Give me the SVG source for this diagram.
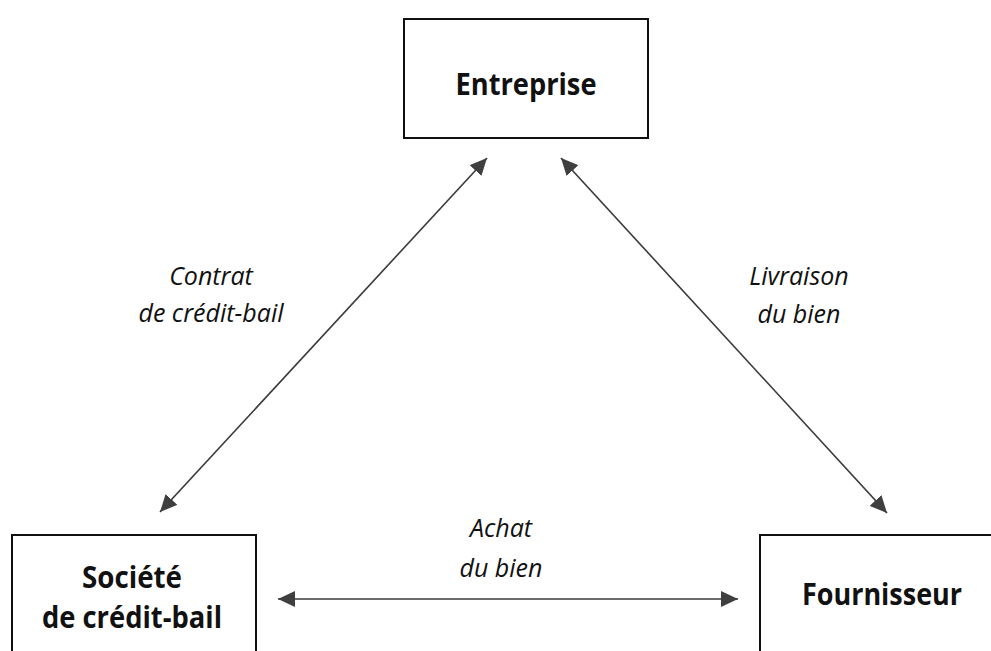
<svg xmlns="http://www.w3.org/2000/svg" width="991" height="651" viewBox="0 0 991 651">
  <style>
    .box { fill: #ffffff; stroke: #111111; stroke-width: 2; }
    .name { font-family: "Open Sans", "Noto Sans", sans-serif; font-weight: bold; font-size: 31px; fill: #111111; text-anchor: middle; }
    .label { font-family: "Open Sans", "Noto Sans", sans-serif; font-style: italic; font-size: 25px; fill: #111111; text-anchor: middle; }
    .link { stroke: #3a3a3a; stroke-width: 1.6; fill: none; marker-start: url(#head); marker-end: url(#head); }
  </style>
  <defs>
    <marker id="head" markerUnits="userSpaceOnUse" markerWidth="18" markerHeight="16" refX="17" refY="8" orient="auto-start-reverse" viewBox="0 0 18 16">
      <path d="M0,0 L17,8 L0,16 z" fill="#3f3f3f"/>
    </marker>
  </defs>
  <rect width="991" height="651" fill="#ffffff"/>

  <g id="connectors">
    <line class="link" x1="487" y1="158" x2="160" y2="512"/>
    <line class="link" x1="561" y1="158" x2="887" y2="513"/>
    <line class="link" x1="278" y1="599" x2="738" y2="599"/>
    <text class="label" x="211" y="285">Contrat</text>
    <text class="label" x="211" y="322">de crédit-bail</text>
    <text class="label" x="799" y="285">Livraison</text>
    <text class="label" x="799" y="323">du bien</text>
    <text class="label" x="501" y="537">Achat</text>
    <text class="label" x="501" y="577">du bien</text>
  </g>

  <g id="entreprise">
    <rect class="box" x="404" y="19" width="244" height="119"/>
    <text class="name" x="526" y="95" textLength="141" lengthAdjust="spacingAndGlyphs">Entreprise</text>
  </g>

  <g id="societe">
    <rect class="box" x="12" y="535" width="244" height="130"/>
    <text class="name" x="132" y="588" textLength="100" lengthAdjust="spacingAndGlyphs">Société</text>
    <text class="name" x="132" y="628" textLength="180" lengthAdjust="spacingAndGlyphs">de crédit-bail</text>
  </g>

  <g id="fournisseur">
    <rect class="box" x="760" y="535" width="250" height="130"/>
    <text class="name" x="882" y="605" textLength="160" lengthAdjust="spacingAndGlyphs">Fournisseur</text>
  </g>
</svg>
